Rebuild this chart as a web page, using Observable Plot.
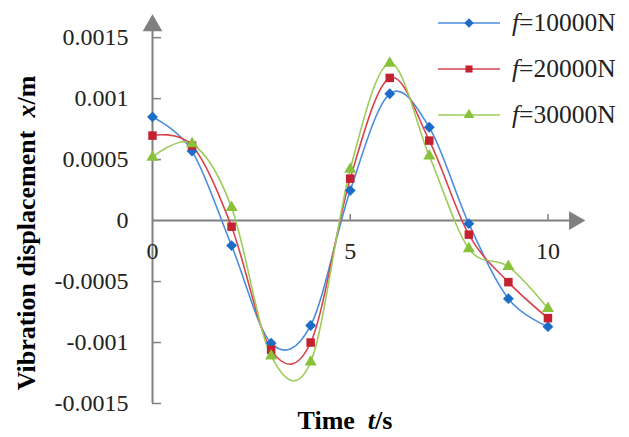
<!DOCTYPE html>
<html><head><meta charset="utf-8">
<script src="https://cdn.jsdelivr.net/npm/d3@7"></script>
<script src="https://cdn.jsdelivr.net/npm/@observablehq/plot@0.6"></script>
<style>
body{margin:0;background:#fff;}
#wrap{position:relative;width:629px;height:437px;overflow:hidden;font-family:"Liberation Serif",serif;}
.title{position:absolute;white-space:nowrap;font-weight:bold;font-size:26px;color:#000;}
</style></head><body><div id="wrap"></div>
<script>
// ---- data ----
const time = [0, 1, 2, 3, 4, 5, 6, 7, 8, 9, 10];
const f10000 = [0.00085, 0.00057, -0.000205, -0.001005, -0.00086, 0.000246, 0.00104, 0.000765, -0.000025, -0.00064, -0.00087];
const f20000 = [0.000697, 0.000615, -0.00005, -0.00106, -0.001, 0.000344, 0.00117, 0.000656, -0.000115, -0.000505, -0.0008];
const f30000 = [0.00052, 0.00063, 0.000107, -0.00111, -0.00116, 0.00042, 0.00129, 0.00053, -0.00023, -0.000377, -0.00072];
const seriesNames = ["10000N", "20000N", "30000N"];
const yTicks = [-0.0015, -0.001, -0.0005, 0, 0.0005, 0.001, 0.0015];
const yTickLabels = ["-0.0015", "-0.001", "-0.0005", "0", "0.0005", "0.001", "0.0015"];
const xTicks = [0, 5, 10];
const xTickLabels = ["0", "5", "10"];

// ---- styles ----
const styles = [
  {line: "#4a8ede", mark: "#1c6cc8", symbol: "diamond2", r: 4.9},
  {line: "#d9434d", mark: "#c42231", symbol: "square", r: 4.8},
  {line: "#9ccd5a", mark: "#88c23a", symbol: "triangle", r: 4.5}
];
const axisColor = "#808080";
const xDomain = [0, 10.95], yDomain = [-0.0015, 0.00169];
const W = 629, H = 437, mL = 152, mR = 44, mT = 14, mB = 34;
const pxPerX = (W - mL - mR) / (xDomain[1] - xDomain[0]);
const pxPerY = (H - mT - mB) / (yDomain[1] - yDomain[0]);

const seriesValues = [f10000, f20000, f30000];
const rows = seriesValues.flatMap((vals, i) => time.map((t, j) => ({t, v: vals[j], s: i})));

const marks = [];
// axes
marks.push(Plot.ruleX([0], {y1: yDomain[0], y2: yDomain[1] - 12 / pxPerY, stroke: axisColor, strokeWidth: 2}));
marks.push(Plot.ruleY([0], {x1: 0, x2: xDomain[1] - 12 / pxPerX, stroke: axisColor, strokeWidth: 2}));
marks.push(Plot.ruleY(yTicks.filter(d => d !== 0), {x1: 0, x2: 9 / pxPerX, stroke: axisColor, strokeWidth: 1.5}));
marks.push(Plot.ruleX(xTicks.filter(d => d !== 0), {y1: 0, y2: 6 / pxPerY, stroke: axisColor, strokeWidth: 1.5}));
marks.push(Plot.dot([0], {x: 0, y: yDomain[1], symbol: "triangle", r: 7.3, fill: axisColor, dy: 11}));
marks.push(Plot.dot([0], {x: xDomain[1], y: 0, symbol: "triangle", r: 7.0, fill: axisColor, rotate: 90, dx: -11}));
// tick labels
marks.push(Plot.text(yTicks, {x: 0, y: d => d, text: (d, i) => yTickLabels[i], textAnchor: "end", dx: -24, fontSize: 24, fill: "#222"}));
marks.push(Plot.text(xTicks, {x: d => d, y: 0, text: (d, i) => xTickLabels[i], dy: 31, fontSize: 24, fill: "#222"}));
// series
styles.forEach((st, i) => {
  const data = rows.filter(r => r.s === i);
  marks.push(Plot.line(data, {x: "t", y: "v", curve: "cardinal", stroke: st.line, strokeWidth: 1.6}));
});
styles.forEach((st, i) => {
  const data = rows.filter(r => r.s === i);
  marks.push(Plot.dot(data, {x: "t", y: "v", symbol: st.symbol, r: st.r, fill: st.mark, stroke: "none"}));
});

const chart = Plot.plot({
  width: W, height: H,
  marginLeft: mL, marginRight: mR, marginTop: mT, marginBottom: mB,
  x: {domain: xDomain, axis: null},
  y: {domain: yDomain, axis: null},
  style: {fontFamily: "'Liberation Serif', serif", background: "white", overflow: "visible"},
  marks
});
const wrap = document.getElementById("wrap");
wrap.appendChild(chart);

// axis titles
const yt = document.createElement("div");
yt.className = "title";
yt.innerHTML = "Vibration displacement&nbsp;&nbsp;<i>x</i>/m";
yt.style.left = "27px"; yt.style.top = "233px";
yt.style.transform = "translate(-50%,-50%) rotate(-90deg)";
wrap.appendChild(yt);
const xt = document.createElement("div");
xt.className = "title";
xt.innerHTML = "Time&nbsp;&nbsp;<i>t</i>/s";
xt.style.left = "345px"; xt.style.top = "421px";
xt.style.transform = "translate(-50%,-50%)";
wrap.appendChild(xt);

// legend
const leg = d3.select(wrap).append("svg")
  .attr("width", 200).attr("height", 140)
  .style("position", "absolute").style("left", "429px").style("top", "0px")
  .style("font-family", "'Liberation Serif', serif").style("font-size", "25.5px");
const symMap = {diamond2: d3.symbolDiamond2, square: d3.symbolSquare, triangle: d3.symbolTriangle};
const legSize = {diamond2: 55, square: 50, triangle: 50};
seriesNames.forEach((name, i) => {
  const st = styles[i];
  const g = leg.append("g").attr("transform", `translate(0,${23 + 46 * i})`);
  g.append("line").attr("x1", 9).attr("x2", 71).attr("y1", 0).attr("y2", 0).attr("stroke", st.line).attr("stroke-width", 1.6);
  g.append("path").attr("d", d3.symbol(symMap[st.symbol], legSize[st.symbol])()).attr("transform", "translate(40,0)").attr("fill", st.mark);
  const t = g.append("text").attr("x", 83).attr("y", 8).attr("fill", "#222");
  t.append("tspan").attr("font-style", "italic").text("f");
  t.append("tspan").text("=" + name);
});
</script>
</body></html>
